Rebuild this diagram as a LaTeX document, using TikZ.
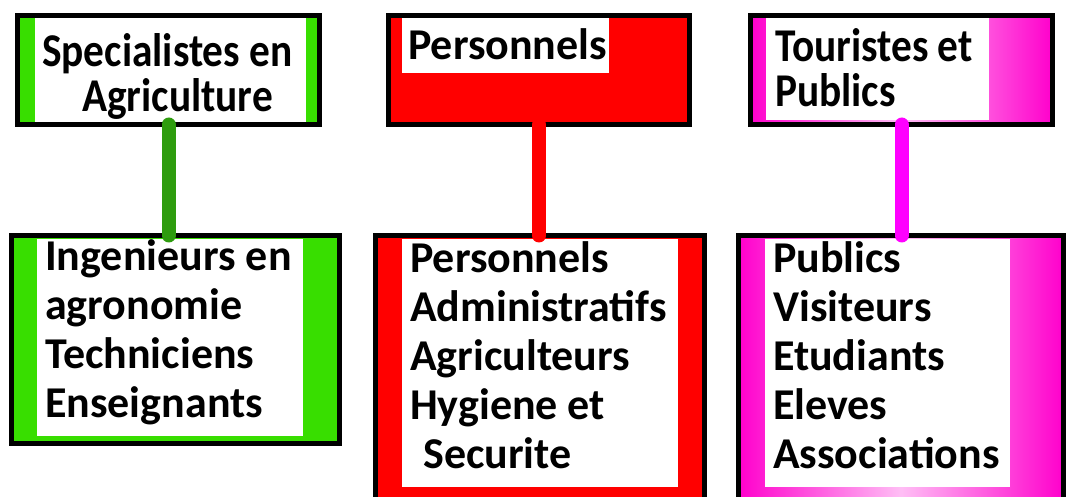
\documentclass[tikz,border=0pt]{standalone}
\usepackage{fontspec}
\setmainfont{Carlito}
\newfontfamily\tallfont[FakeStretch=0.88]{Carlito}
\usetikzlibrary{positioning}
\definecolor{agrigreen}{RGB}{56,222,0}
\definecolor{linkgreen}{RGB}{46,156,14}
\definecolor{persred}{RGB}{255,0,0}
\definecolor{pubpink}{RGB}{255,0,204}
\definecolor{pubpinklight}{RGB}{255,190,245}
\definecolor{linkpink}{RGB}{255,0,255}

\begin{document}
\begin{tikzpicture}[
    x=1pt, y=-1pt,
    groupbox/.style={draw=black, line width=5pt, fill=#1, rectangle, inner sep=0pt, outer sep=0pt},
    pinkbox/.style={groupbox=pubpink, left color=pubpink, right color=pubpink, middle color=pubpinklight},
    entry/.style={anchor=base west, align=left, inner sep=0pt, font=\fontsize{44}{49}\selectfont\bfseries},
    tallentry/.style={entry, font=\tallfont\fontsize{47}{#1}\selectfont\bfseries},
    link/.style={line width=14pt, line cap=round, draw=#1}
]
\clip (0,0) rectangle (1066,497);

% Top boxes
\node[groupbox=agrigreen, minimum width=302pt, minimum height=109pt] (spec) at (168.5,70) {};
\node[groupbox=persred, minimum width=301pt, minimum height=109pt] (pers) at (539,70) {};
\node[pinkbox, minimum width=302pt, minimum height=109pt] (tour) at (901.5,70) {};

% Bottom boxes
\node[groupbox=agrigreen, minimum width=328pt, minimum height=208pt] (ing) at (175.5,339.5) {};
\node[groupbox=persred, minimum width=329pt, minimum height=264pt] (adm) at (540,367.5) {};
\node[pinkbox, minimum width=325pt, minimum height=264pt] (pub) at (901,367.5) {};

% White panels
\fill[white] (35,18) rectangle (306,122);
\fill[white] (402,18) rectangle (609,73);
\fill[white] (766,18) rectangle (989,120);
\fill[white] (37,239) rectangle (303,436);
\fill[white] (402,239) rectangle (678,487);
\fill[white] (765,239) rectangle (1010,487);

% Texts (anchored at the baseline of the last line)
\node[tallentry=45] (specT) at (42,112) {Specialistes en\\\hspace*{40pt}Agriculture};
\node[entry] (persT) at (408,60) {Personnels};
\node[tallentry=45] (tourT) at (775,107) {Touristes et\\Publics};
\node[entry] (ingT) at (45,417) {Ingenieurs en\\agronomie\\Techniciens\\Enseignants};
\node[entry] (admT) at (410,468) {Personnels\\Administratifs\\Agriculteurs\\Hygiene et\\\hspace*{13pt}Securite};
\node[entry] (pubT) at (773,468) {Publics\\Visiteurs\\Etudiants\\Eleves\\Associations};

% Connections
\draw[link=linkgreen] (spec.south) -- (spec.south |- ing.north);
\draw[link=persred] (pers.south) -- (pers.south |- adm.north);
\draw[link=linkpink] (tour.south) -- (tour.south |- pub.north);

\end{tikzpicture}
\end{document}
